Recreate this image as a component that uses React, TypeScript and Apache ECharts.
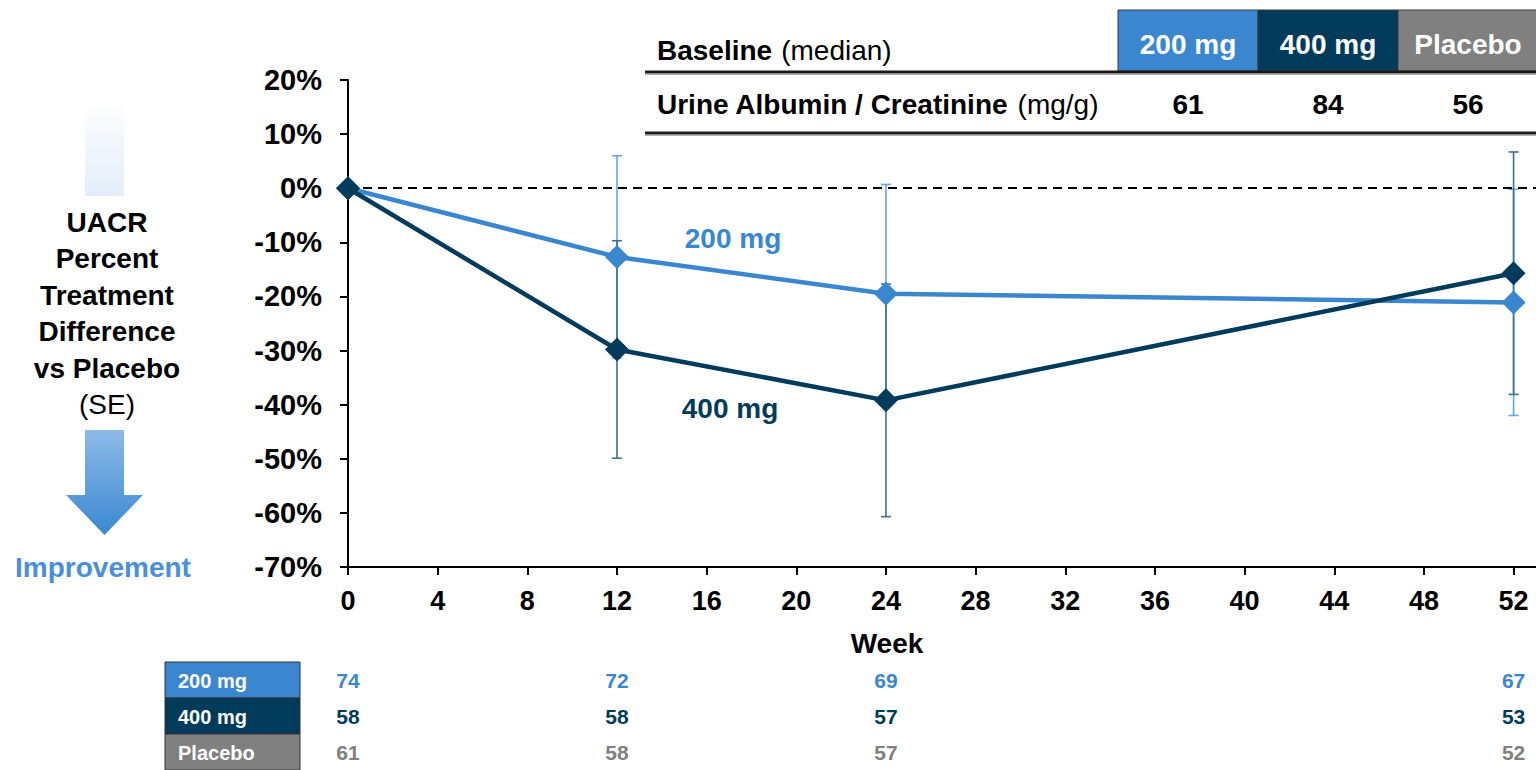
import React, { useEffect, useRef } from "react";
import * as echarts from "echarts";

const weeks = [0, 12, 24, 52];
const mean200 = [0, -12.7, -19.5, -21.1];
const se200 = [0, 18.7, 20.2, 20.9];
const mean400 = [0, -29.8, -39.2, -15.7];
const se400 = [0, 20.1, 21.5, 22.4];
const xTickValues = [0, 4, 8, 12, 16, 20, 24, 28, 32, 36, 40, 44, 48, 52];
const groups = ["200 mg", "400 mg", "Placebo"];
const baselineUACR = [61, 84, 56];
const n200 = [74, 72, 69, 67];
const n400 = [58, 58, 57, 53];
const nPlacebo = [61, 58, 57, 52];
const yLabelLines = ["UACR", "Percent", "Treatment", "Difference", "vs Placebo"];

const C200 = "#3a87d0";
const C400 = "#003b5c";
const CPL = "#808080";
const FONT = "'Liberation Sans', Arial, sans-serif";

function errData(mean: number[], se: number[]) {
  return weeks
    .map((w, i) => [w, mean[i] - se[i], mean[i] + se[i]])
    .filter((d, i) => se[i] > 0);
}

function errSeries(data: number[][], color: string, z: number) {
  return {
    type: "custom",
    xAxisIndex: 0,
    yAxisIndex: 0,
    z,
    silent: true,
    encode: { x: 0, y: [1, 2] },
    data,
    renderItem: (params: any, api: any) => {
      const lo = api.coord([api.value(0), api.value(1)]);
      const hi = api.coord([api.value(0), api.value(2)]);
      const cw = 5;
      const st = { stroke: color, lineWidth: 1.6 };
      return {
        type: "group",
        children: [
          { type: "line", shape: { x1: lo[0], y1: lo[1], x2: hi[0], y2: hi[1] }, style: st },
          { type: "line", shape: { x1: lo[0] - cw, y1: lo[1], x2: lo[0] + cw, y2: lo[1] }, style: st },
          { type: "line", shape: { x1: hi[0] - cw, y1: hi[1], x2: hi[0] + cw, y2: hi[1] }, style: st },
        ],
      };
    },
  };
}

export default function App() {
  const ref = useRef<HTMLDivElement>(null);
  useEffect(() => {
    const chart = echarts.init(ref.current!, null, { renderer: "svg" });

    const graphics: any[] = [];
    // Left side annotation
    graphics.push({
      type: "rect",
      shape: { x: 85, y: 100, width: 39, height: 96 },
      style: {
        fill: new echarts.graphic.LinearGradient(0, 0, 0, 1, [
          { offset: 0, color: "#ffffff" },
          { offset: 1, color: "#e3edf9" },
        ]),
      },
    });
    yLabelLines.forEach((t, i) => {
      graphics.push({
        type: "text",
        x: 107,
        y: 222 + i * 36.5,
        style: { text: t, font: `bold 28px ${FONT}`, fill: "#000", align: "center", verticalAlign: "middle" },
      });
    });
    graphics.push({
      type: "text",
      x: 107,
      y: 404,
      style: { text: "(SE)", font: `28px ${FONT}`, fill: "#000", align: "center", verticalAlign: "middle" },
    });
    graphics.push({
      type: "polygon",
      shape: {
        points: [
          [85, 430],
          [124, 430],
          [124, 495],
          [143, 495],
          [104.5, 535],
          [66, 495],
          [85, 495],
        ],
      },
      style: {
        fill: new echarts.graphic.LinearGradient(0, 0, 0, 1, [
          { offset: 0, color: "#8dbbe8" },
          { offset: 1, color: "#3a87d0" },
        ]),
      },
    });
    graphics.push({
      type: "text",
      x: 103,
      y: 567,
      style: { text: "Improvement", font: `bold 28px ${FONT}`, fill: "#4a90d9", align: "center", verticalAlign: "middle" },
    });

    // Series labels in the plot
    graphics.push({
      type: "text",
      x: 733,
      y: 238,
      style: { text: "200 mg", font: `bold 28px ${FONT}`, fill: C200, align: "center", verticalAlign: "middle" },
    });
    graphics.push({
      type: "text",
      x: 730,
      y: 408,
      style: { text: "400 mg", font: `bold 28px ${FONT}`, fill: C400, align: "center", verticalAlign: "middle" },
    });

    // X-axis title
    graphics.push({
      type: "text",
      x: 887,
      y: 643,
      style: { text: "Week", font: `bold 28px ${FONT}`, fill: "#000", align: "center", verticalAlign: "middle" },
    });

    // Top baseline table
    const hdrColors = [C200, C400, CPL];
    const cellX = [1118, 1258, 1398];
    const cellW = [140, 140, 140];
    groups.forEach((g, i) => {
      graphics.push({
        type: "rect",
        shape: { x: cellX[i], y: 10, width: cellW[i], height: 61 },
        style: { fill: hdrColors[i], stroke: "#3a3a3a", lineWidth: 1 },
      });
      graphics.push({
        type: "text",
        x: cellX[i] + 70,
        y: 44,
        style: { text: g, font: `bold 28px ${FONT}`, fill: "#fff", align: "center", verticalAlign: "middle" },
      });
      graphics.push({
        type: "text",
        x: cellX[i] + 70,
        y: 104,
        style: { text: String(baselineUACR[i]), font: `bold 28px ${FONT}`, fill: "#000", align: "center", verticalAlign: "middle" },
      });
    });
    graphics.push({
      type: "text",
      x: 657,
      y: 50,
      style: {
        text: "{b|Baseline}{r|(median)}",
        verticalAlign: "middle",
        rich: {
          b: { font: `bold 28px ${FONT}`, fill: "#000", padding: [0, 9, 0, 0] },
          r: { font: `28px ${FONT}`, fill: "#000" },
        },
      },
    });
    graphics.push({
      type: "text",
      x: 657,
      y: 104,
      style: {
        text: "{b|Urine Albumin / Creatinine}{r|(mg/g)}",
        verticalAlign: "middle",
        rich: {
          b: { font: `bold 28px ${FONT}`, fill: "#000", padding: [0, 9, 0, 0] },
          r: { font: `28px ${FONT}`, fill: "#000" },
        },
      },
    });
    [72, 133].forEach((y) => {
      graphics.push({
        type: "line",
        shape: { x1: 645, y1: y, x2: 1536, y2: y },
        style: { stroke: "#1a1a1a", lineWidth: 3 },
      });
      graphics.push({
        type: "line",
        shape: { x1: 645, y1: y + 2.5, x2: 1536, y2: y + 2.5 },
        style: { stroke: "#b0b0b0", lineWidth: 1 },
      });
    });

    // Bottom N table header cells
    const rowColors = [C200, C400, CPL];
    groups.forEach((g, i) => {
      graphics.push({
        type: "rect",
        shape: { x: 165, y: 662 + i * 36, width: 135, height: 36 },
        style: { fill: rowColors[i], stroke: "#333", lineWidth: 1 },
      });
      graphics.push({
        type: "text",
        x: 178,
        y: 681 + i * 36,
        style: { text: g, font: `bold 20px ${FONT}`, fill: "#fff", verticalAlign: "middle" },
      });
    });

    const nSeries = (arr: number[], row: string, color: string) => ({
      type: "scatter",
      xAxisIndex: 1,
      yAxisIndex: 1,
      symbol: "rect",
      symbolSize: 1,
      itemStyle: { color: "#ffffff", opacity: 1 },
      silent: true,
      data: weeks.map((w, i) => [w, row, arr[i]]),
      label: {
        show: true,
        position: "inside",
        formatter: (p: any) => String(p.data[2]),
        color,
        opacity: 1,
        textBorderWidth: 0,
        fontWeight: "bold",
        fontSize: 21,
        fontFamily: FONT,
      },
    });

    const option: any = {
      animation: false,
      grid: [
        { left: 348, top: 80, width: 1188, height: 487 },
        { left: 348, top: 663, width: 1188, height: 108 },
      ],
      xAxis: [
        {
          type: "value",
          gridIndex: 0,
          min: 0,
          max: 53,
          interval: 4,
          axisLine: { onZero: false, lineStyle: { color: "#000", width: 2 } },
          axisTick: { show: true, length: 8, lineStyle: { color: "#000", width: 2 }, customValues: xTickValues },
          axisLabel: {
            customValues: xTickValues,
            fontSize: 27,
            fontWeight: "bold",
            color: "#000",
            fontFamily: FONT,
            margin: 20,
          },
          splitLine: { show: false },
        },
        {
          type: "value",
          gridIndex: 1,
          min: 0,
          max: 53,
          show: false,
        },
      ],
      yAxis: [
        {
          type: "value",
          gridIndex: 0,
          min: -70,
          max: 20,
          interval: 10,
          axisLine: { show: true, onZero: false, lineStyle: { color: "#000", width: 2 } },
          axisTick: { show: true, length: 8, lineStyle: { color: "#000", width: 2 } },
          axisLabel: {
            formatter: (v: number) => `${v}%`,
            fontSize: 29,
            fontWeight: "bold",
            color: "#000",
            fontFamily: FONT,
            margin: 26,
          },
          splitLine: { show: false },
        },
        {
          type: "category",
          gridIndex: 1,
          data: groups,
          inverse: true,
          show: false,
        },
      ],
      series: [
        errSeries(errData(mean200, se200), "#6aa5dd", 2),
        errSeries(errData(mean400, se400), "#3f6f8f", 3),
        {
          type: "line",
          name: "200 mg",
          xAxisIndex: 0,
          yAxisIndex: 0,
          z: 4,
          data: weeks.map((w, i) => [w, mean200[i]]),
          lineStyle: { color: C200, width: 4.5 },
          itemStyle: { color: C200 },
          symbol: "diamond",
          symbolSize: 24,
          markLine: {
            silent: true,
            symbol: "none",
            label: { show: false },
            lineStyle: { color: "#000", type: [9, 6], width: 2 },
            data: [{ yAxis: 0 }],
          },
        },
        {
          type: "line",
          name: "400 mg",
          xAxisIndex: 0,
          yAxisIndex: 0,
          z: 5,
          data: weeks.map((w, i) => [w, mean400[i]]),
          lineStyle: { color: C400, width: 4.5 },
          itemStyle: { color: C400 },
          symbol: "diamond",
          symbolSize: 24,
        },
        nSeries(n200, "200 mg", C200),
        nSeries(n400, "400 mg", C400),
        nSeries(nPlacebo, "Placebo", CPL),
      ],
      graphic: graphics,
    };
    chart.setOption(option);
    return () => chart.dispose();
  }, []);
  return (
    <div
      ref={ref}
      style={{ position: "fixed", left: 0, top: 0, width: 1536, height: 770, background: "#fff" }}
    />
  );
}
